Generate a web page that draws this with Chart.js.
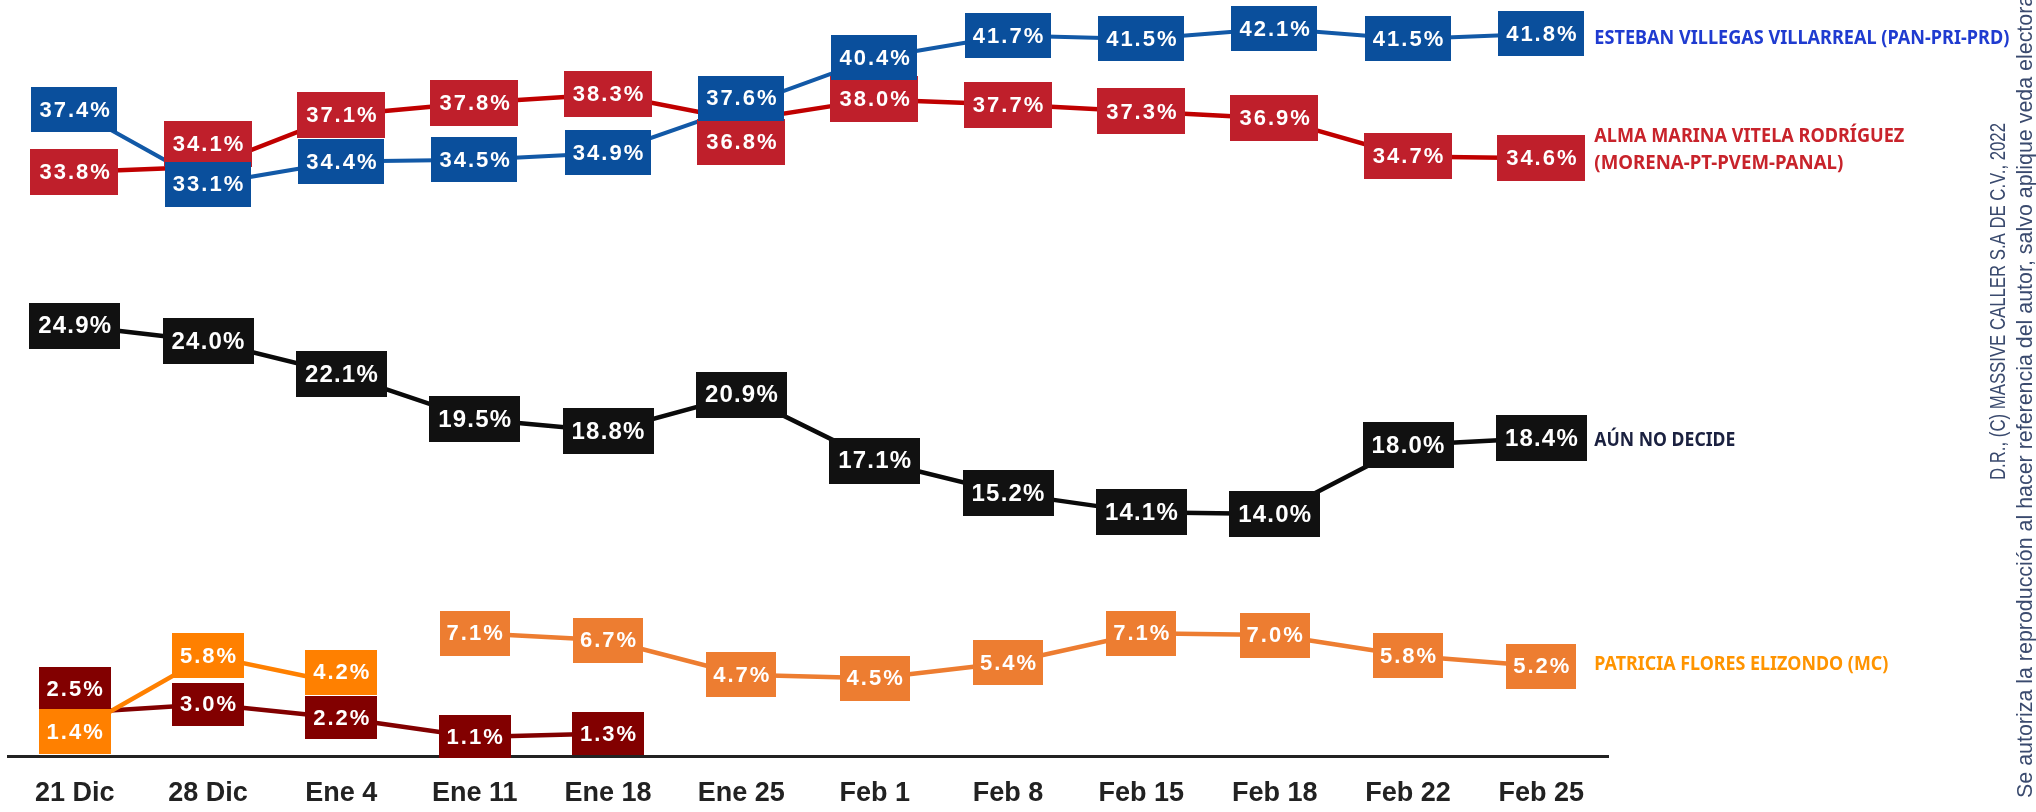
<!DOCTYPE html>
<html><head><meta charset="utf-8">
<script src="https://cdn.jsdelivr.net/npm/chart.js@4.4.1/dist/chart.umd.min.js"></script>
<style>html,body{margin:0;padding:0;background:#fff;overflow:hidden}#wrap{width:2036px;height:812px;position:relative}</style>
</head><body><div id="wrap"><canvas id="c" width="2036" height="812"></canvas></div>
<script>
// ---- data ----
const categories = ['21 Dic','28 Dic','Ene 4','Ene 11','Ene 18','Ene 25','Feb 1','Feb 8','Feb 15','Feb 18','Feb 22','Feb 25'];
const esteban  = [37.4,33.1,34.4,34.5,34.9,37.6,40.4,41.7,41.5,42.1,41.5,41.8];
const alma     = [33.8,34.1,37.1,37.8,38.3,36.8,38.0,37.7,37.3,36.9,34.7,34.6];
const noDecide = [24.9,24.0,22.1,19.5,18.8,20.9,17.1,15.2,14.1,14.0,18.0,18.4];
const patriciaEarly = [1.4,5.8,4.2,null,null,null,null,null,null,null,null,null];
const patricia = [null,null,null,7.1,6.7,4.7,4.5,5.4,7.1,7.0,5.8,5.2];
const otro     = [2.5,3.0,2.2,1.1,1.3,null,null,null,null,null,null,null];
const estebanName  = ['ESTEBAN VILLEGAS VILLARREAL (PAN-PRI-PRD)'];
const almaName     = ['ALMA MARINA VITELA RODRÍGUEZ','(MORENA-PT-PVEM-PANAL)'];
const noDecideName = ['AÚN NO DECIDE'];
const patriciaName = ['PATRICIA FLORES ELIZONDO (MC)'];
const credit1 = 'D.R., (C) MASSIVE CALLER S.A DE C.V., 2022';
const credit2 = 'Se autoriza la reproducción al hacer referencia del autor, salvo aplique veda electoral';

// ---- styles ----
const styles = {
  esteban:{line:'#1259A7', box:'#0A4F9C', bw:4,   font:'bold 22px "Liberation Sans"', ls:2, pad:8, h:45},
  alma:{line:'#C00000', box:'#BF1F2B', bw:4.5, font:'bold 22px "Liberation Sans"', ls:2, pad:9, h:46},
  noDecide:{line:'#0A0A0A', box:'#111111', bw:4.5, font:'bold 24px "Liberation Sans"', ls:1.2, pad:9, h:46},
  patriciaEarly:{line:'#FF8000', box:'#FF8000', bw:4.5, font:'bold 22px "Liberation Sans"', ls:2, pad:8, h:45},
  patricia:{line:'#ED7D31', box:'#ED7D31', bw:4.5, font:'bold 22px "Liberation Sans"', ls:2, pad:7, h:45},
  otro:{line:'#820000', box:'#820000', bw:4.5, font:'bold 22px "Liberation Sans"', ls:2, pad:8, h:43}
};
const labelShift = {alma:{1:-23,5:22}, esteban:{5:-8}, otro:{0:-24}, patriciaEarly:{2:-11}};
const endLabels = [
  {key:'esteban', lines:estebanName, color:'#1F3BD0', dy:[5], w:[415]},
  {key:'alma', lines:almaName, color:'#C8232B', dy:[-22,5], w:[310,249]},
  {key:'noDecide', lines:noDecideName, color:'#1B2140', dy:[2], w:[141]},
  {key:'patricia', lines:patriciaName, color:'#FF9400', dy:[-2], w:[294]}
];

const seriesDefs = [
  {key:'esteban', data:esteban},
  {key:'alma', data:alma},
  {key:'noDecide', data:noDecide},
  {key:'patriciaEarly', data:patriciaEarly},
  {key:'patricia', data:patricia},
  {key:'otro', data:otro}
];

const datasets = seriesDefs.map(s=>({
  key:s.key, label:s.key, data:s.data,
  borderColor:styles[s.key].line, backgroundColor:styles[s.key].line,
  borderWidth:styles[s.key].bw, pointRadius:0, pointHoverRadius:0,
  tension:0, spanGaps:false, clip:false
}));

const boxPlugin = {
  id:'boxes',
  afterDatasetsDraw(chart){
    const ctx = chart.ctx;
    ['otro','patriciaEarly','patricia','noDecide','alma','esteban'].forEach(key=>{
      const di = chart.data.datasets.findIndex(d=>d.key===key);
      const ds = chart.data.datasets[di];
      const meta = chart.getDatasetMeta(di);
      const st = styles[key];
      ds.data.forEach((v,i)=>{
        if(v==null) return;
        const el = meta.data[i];
        const x = el.x, y = el.y + ((labelShift[key]||{})[i]||0);
        const txt = v.toFixed(1)+'%';
        ctx.save();
        ctx.font = st.font; ctx.letterSpacing = st.ls+'px';
        const w = ctx.measureText(txt).width - st.ls + st.pad*2;
        ctx.fillStyle = st.box;
        ctx.fillRect(Math.round(x-w/2), Math.round(y-st.h/2), Math.round(w), st.h);
        ctx.fillStyle = '#fff'; ctx.textAlign='center'; ctx.textBaseline='middle';
        ctx.fillText(txt, x + st.ls/2, y+1);
        ctx.restore();
      });
    });
  },
  afterDraw(chart){
    const ctx = chart.ctx;
    endLabels.forEach(lb=>{
      const di = chart.data.datasets.findIndex(d=>d.key===lb.key);
      const meta = chart.getDatasetMeta(di);
      const el = meta.data[meta.data.length-1];
      lb.lines.forEach((t,j)=>{
        ctx.save();
        ctx.font = 'bold 20px "Noto Sans"';
        ctx.fillStyle = lb.color; ctx.textBaseline='middle'; ctx.textAlign='left';
        const nat = ctx.measureText(t).width;
        ctx.translate(el.x+53, el.y+lb.dy[j]);
        ctx.scale(lb.w[j]/nat, 1);
        ctx.fillText(t, 0, 0);
        ctx.restore();
      });
    });
    // credits, rotated
    ctx.save();
    ctx.font = '22px "Liberation Sans"';
    ctx.fillStyle = '#3A4A6E';
    const nat1 = ctx.measureText(credit1).width;
    ctx.translate(2005, 480); ctx.rotate(-Math.PI/2); ctx.scale(357/nat1,1);
    ctx.textAlign='left'; ctx.textBaseline='alphabetic';
    ctx.fillText(credit1, 0, 0);
    ctx.restore();
    ctx.save();
    ctx.font = '22px "Liberation Sans"';
    ctx.fillStyle = '#3A4A6E';
    const nat2 = ctx.measureText(credit2).width;
    ctx.translate(2032, 798); ctx.rotate(-Math.PI/2); ctx.scale(808/nat2,1);
    ctx.textAlign='left'; ctx.textBaseline='alphabetic';
    ctx.fillText(credit2, 0, 0);
    ctx.restore();
  }
};

new Chart(document.getElementById('c'), {
  type:'line',
  data:{labels:categories, datasets},
  plugins:[boxPlugin],
  options:{
    responsive:false, devicePixelRatio:1, animation:false,
    layout:{padding:{left:8, right:428, top:13, bottom:0}},
    plugins:{legend:{display:false}, tooltip:{enabled:false}},
    scales:{
      x:{type:'category', offset:true,
         grid:{display:false, drawTicks:false},
         border:{display:true, color:'#222', width:3},
         ticks:{color:'#222', font:{family:'"Liberation Sans"', size:27, weight:'bold'}, padding:21, maxRotation:0, autoSkip:false},
         afterFit:(s)=>{ s.height = 56; }},
      y:{display:false, min:0, max:43}
    }
  }
});
</script></body></html>
